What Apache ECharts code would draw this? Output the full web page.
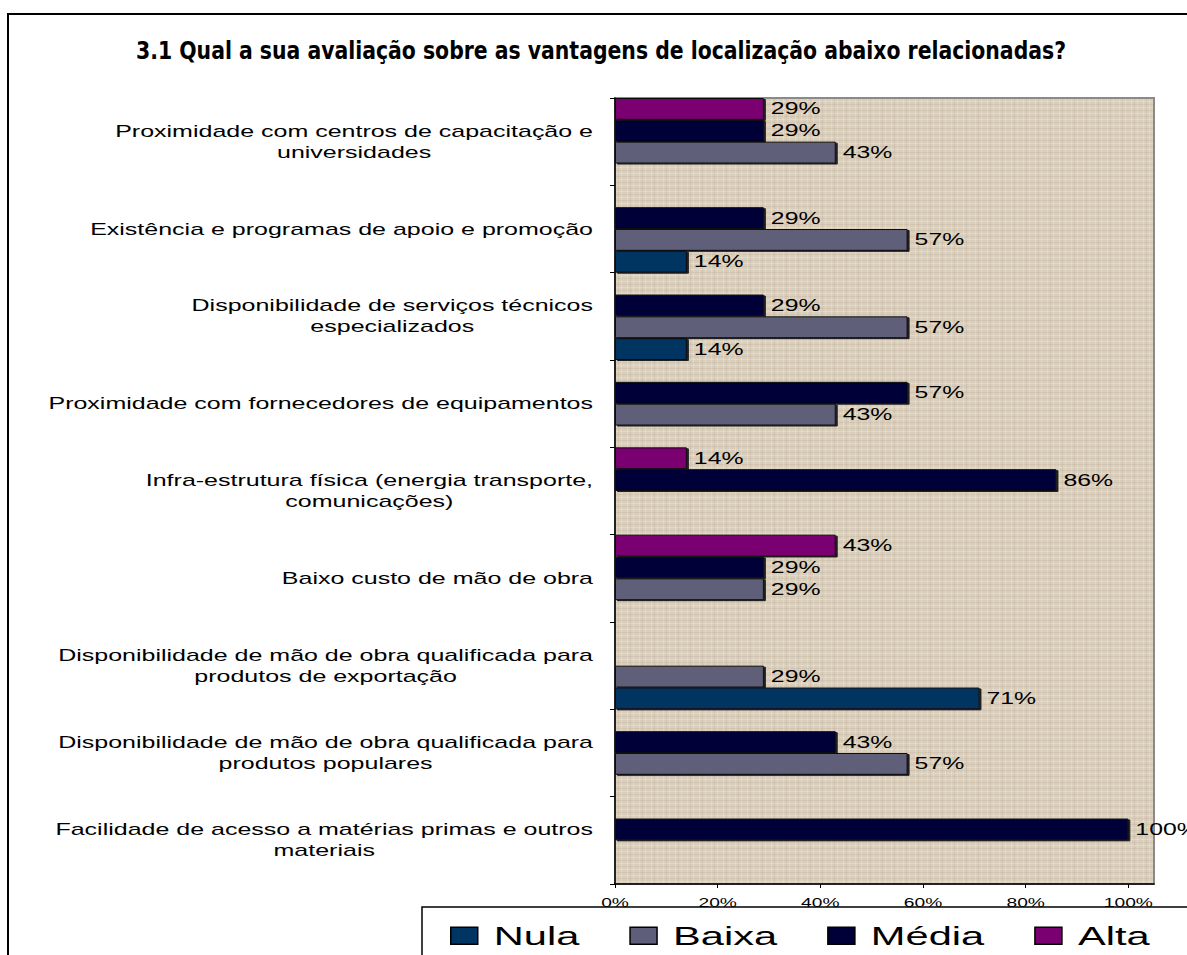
<!DOCTYPE html>
<html>
<head>
<meta charset="utf-8">
<title>3.1 Qual a sua avaliação sobre as vantagens de localização abaixo relacionadas?</title>
<script src="https://cdn.jsdelivr.net/npm/echarts@6/dist/echarts.min.js"></script>
<style>
  html, body { margin: 0; padding: 0; background: #fff; }
  #chart { width: 1187px; height: 955px; }
</style>
</head>
<body>
<div id="chart"></div>
<script>
// ---- data ----
const titleText = '3.1 Qual a sua avaliação sobre as vantagens de localização abaixo relacionadas?';
const categories = [
  'Proximidade com centros de capacitação e\nuniversidades',
  'Existência e programas de apoio e promoção',
  'Disponibilidade de serviços técnicos\nespecializados',
  'Proximidade com fornecedores de equipamentos',
  'Infra-estrutura física (energia transporte,\ncomunicações)',
  'Baixo custo de mão de obra',
  'Disponibilidade de mão de obra qualificada para\nprodutos de exportação',
  'Disponibilidade de mão de obra qualificada para\nprodutos populares',
  'Facilidade de acesso a matérias primas e outros\nmateriais'
];
const seriesNames = ['Nula', 'Baixa', 'Média', 'Alta'];
const nula  = [null, 14, 14, null, null, null, 71, null, null];
const baixa = [43, 57, 57, 43, null, 29, 29, 57, null];
const media = [29, 29, 29, 57, 86, 29, null, 43, 100];
const alta  = [29, null, null, null, 14, 43, null, null, null];
const xTicks = [0, 20, 40, 60, 80, 100];

// ---- styling ----
const FONT = 'Liberation Sans';
const TITLE_FAMILY = 'DejaVu Sans Condensed';
const TITLE_SIZE = 25;
const TITLE_WIDTH = 930;
const colors = { 'Nula': '#003462', 'Baixa': '#5e5e7a', 'Média': '#000038', 'Alta': '#7a0072' };

// Text in this chart is drawn horizontally widened; the factor depends on the font size.
const stretchBySize = { 12: 1.6, 16: 1.55, 17: 1.47, 26: 1.6 };
const measureCtx = document.createElement('canvas').getContext('2d');
function naturalWidth(text, font) {
  measureCtx.font = font;
  return measureCtx.measureText(text).width;
}
stretchBySize[TITLE_SIZE] = TITLE_WIDTH / naturalWidth(titleText, 'bold ' + TITLE_SIZE + 'px "' + TITLE_FAMILY + '"');
function stretchFor(font) {
  const m = /([\d.]+)px/.exec(font || '');
  return m ? (stretchBySize[+m[1]] || 1) : 1;
}
echarts.setPlatformAPI({
  measureText(text, font) {
    const f = font || '12px sans-serif';
    return { width: naturalWidth(text, f) * stretchFor(f) };
  }
});

// soft woven canvas texture for the plot background
function makeTexture() {
  const c = document.createElement('canvas');
  c.width = 12; c.height = 12;
  const g = c.getContext('2d');
  g.fillStyle = '#d8cebb';
  g.fillRect(0, 0, 12, 12);
  g.fillStyle = 'rgba(236,230,218,0.45)';
  g.fillRect(3, 0, 1, 12); g.fillRect(9, 0, 1, 12);
  g.fillRect(0, 5, 12, 1); g.fillRect(0, 11, 12, 1);
  g.fillStyle = 'rgba(175,162,138,0.18)';
  g.fillRect(6, 0, 1, 12); g.fillRect(0, 2, 12, 1); g.fillRect(0, 8, 12, 1);
  return c;
}

function barSeries(name, data) {
  return {
    name: name,
    type: 'bar',
    data: data,
    barGap: '0%',
    barCategoryGap: '0%',
    itemStyle: {
      color: colors[name],
      borderColor: '#111',
      borderWidth: 1,
      shadowColor: 'rgba(0,0,0,0.85)',
      shadowOffsetX: 2,
      shadowOffsetY: 1,
      shadowBlur: 0
    },
    label: {
      show: true,
      position: 'right',
      distance: 7,
      formatter: '{c}%',
      color: '#000',
      fontSize: 16,
      fontFamily: FONT
    },
    emphasis: { disabled: true }
  };
}

const dom = document.getElementById('chart');
const chart = echarts.init(dom, null, { renderer: 'svg' });

chart.setOption({
  animation: false,
  backgroundColor: '#fff',
  title: {
    text: titleText,
    left: 131,
    top: 34,
    textStyle: { fontFamily: TITLE_FAMILY, fontWeight: 'bold', fontSize: TITLE_SIZE, color: '#000' }
  },
  graphic: [{
    type: 'rect',
    silent: true,
    z: -10,
    shape: { x: 8, y: 14, width: 1400, height: 1200 },
    style: { fill: 'none', stroke: '#000', lineWidth: 2 }
  }],
  legend: {
    data: seriesNames,
    selectedMode: false,
    orient: 'horizontal',
    left: 422,
    top: 907,
    width: 760,
    padding: [8, 80, 36, 28],
    itemGap: 50,
    itemWidth: 27,
    itemHeight: 17,
    icon: 'rect',
    borderColor: '#000',
    borderWidth: 1.5,
    backgroundColor: '#fff',
    itemStyle: { borderColor: '#000', borderWidth: 1.5, shadowColor: 'transparent' },
    textStyle: { fontSize: 26, fontFamily: FONT, color: '#000', padding: [0, 0, 0, 11] }
  },
  grid: {
    left: 615,
    right: 33,
    top: 98,
    bottom: 71,
    show: true,
    backgroundColor: { image: makeTexture(), repeat: 'repeat' },
    borderColor: '#8a8a8a',
    borderWidth: 2
  },
  xAxis: {
    type: 'value',
    min: 0,
    max: 105,
    axisLine: { show: true, lineStyle: { color: '#000', width: 1.5 } },
    axisTick: { show: true, length: 4, customValues: xTicks, lineStyle: { color: '#000' } },
    axisLabel: { customValues: xTicks, formatter: '{value}%', fontSize: 12, fontFamily: FONT, color: '#000', margin: 9 },
    splitLine: { show: false }
  },
  yAxis: {
    type: 'category',
    data: categories,
    inverse: true,
    axisLine: { show: true, lineStyle: { color: '#000', width: 1.5 } },
    axisTick: { show: true, length: 5, interval: 0, lineStyle: { color: '#000' } },
    axisLabel: {
      interval: 0,
      margin: 22,
      formatter: function (v) {
        return v.split('\n').map(function (l) { return '{c|' + l + '}'; }).join('\n');
      },
      rich: {
        c: { align: 'center', fontSize: 17, fontFamily: FONT, color: '#000', lineHeight: 21 }
      }
    },
    splitLine: { show: false }
  },
  series: [
    barSeries('Alta', alta),
    barSeries('Média', media),
    barSeries('Baixa', baixa),
    barSeries('Nula', nula)
  ]
});

// widen the drawn glyphs to the width the layout reserved for them
function stretchSvgText() {
  const svg = dom.querySelector('svg');
  if (!svg) return;
  svg.querySelectorAll('text').forEach(function (el) {
    if (el.getAttribute('data-stretched')) return;
    const fs = parseFloat(getComputedStyle(el).fontSize);
    const s = stretchBySize[fs] || 1;
    if (s === 1) return;
    const w = el.getComputedTextLength();
    if (!w) return;
    el.setAttribute('textLength', (w * s).toFixed(2));
    el.setAttribute('lengthAdjust', 'spacingAndGlyphs');
    el.setAttribute('data-stretched', '1');
  });
}
chart.on('finished', stretchSvgText);
stretchSvgText();
</script>
</body>
</html>
